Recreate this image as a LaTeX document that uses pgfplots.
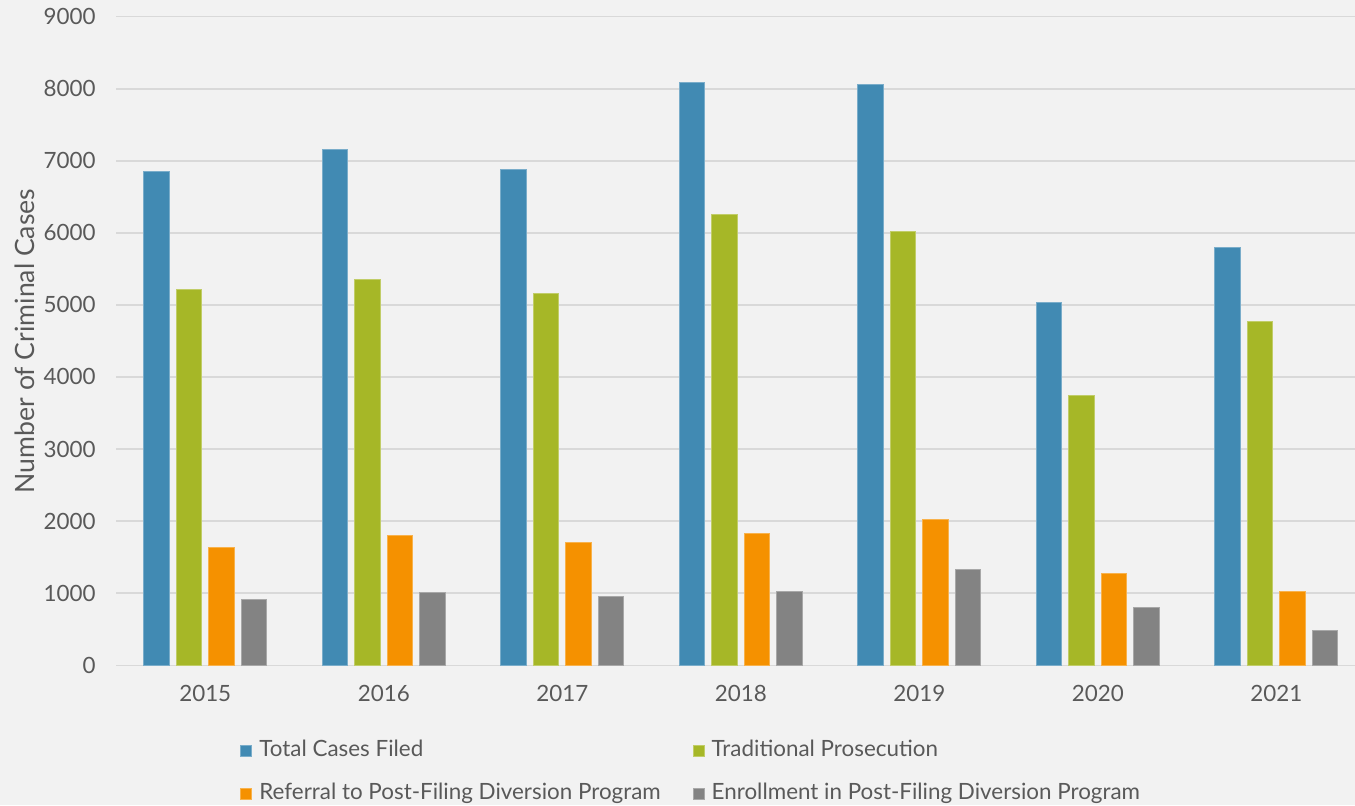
\documentclass[border=0pt]{standalone}
\usepackage{pgfplots}
\pgfplotsset{compat=1.18}
\usepackage{fontspec}
\setmainfont{Lato}

\definecolor{bg}{HTML}{F2F2F2}
\definecolor{gridc}{HTML}{D9D9D9}
\definecolor{txt}{HTML}{595959}
\definecolor{cTotal}{HTML}{418AB3}
\definecolor{cTrad}{HTML}{A6B727}
\definecolor{cRef}{HTML}{F59100}
\definecolor{cEnr}{HTML}{838383}

% Criminal cases per year (x = 0 ... 6 for 2015 ... 2021)
\pgfplotstableread{
x total trad referral enrol
0 6852 5208 1637 912
1 7157 5356 1795 1014
2 6884 5166 1707 949
3 8083 6254 1823 1019
4 8055 6023 2023 1330
5 5032 3750 1274 800
6 5801 4764 1028 484
}\casedata

\newcommand{\lblfont}{\fontsize{11.2}{13}\selectfont}

\begin{document}
\begin{tikzpicture}
\fill[bg] (0,0) rectangle (677.5pt,402.5pt);
\useasboundingbox (0,0) rectangle (677.5pt,402.5pt);
\begin{axis}[
  at={(58pt,69.85pt)}, anchor=south west,
  scale only axis, width=619.5pt, height=324.3pt,
  xmin=-0.5, xmax=6.441, ymin=0, ymax=9000,
  ybar=3.5pt, bar width=12.75pt,
  axis line style={draw=none},
  ytick={0,1000,...,9000},
  xtick={0,...,6}, xticklabels={2015,2016,2017,2018,2019,2020,2021},
  major tick length=0pt,
  ymajorgrids, grid style={draw=gridc, line width=0.75pt},
  tick label style={font=\lblfont, text=txt},
  /pgf/number format/assume math mode=true,
  scaled y ticks=false,
  yticklabel style={/pgf/number format/1000 sep={}, anchor=east, inner sep=0pt,
    xshift=-10pt, text height=7.9pt, text depth=0pt},
  xticklabel style={anchor=north, inner sep=0pt, yshift=-10pt, text height=8pt},
  ylabel={Number of Criminal Cases},
  ylabel style={font=\fontsize{13.3}{15}\selectfont, text=txt,
    at={(axis description cs:-0.0734,0.5)}, anchor=center},
  legend columns=2,
  legend cell align=left,
  legend image code/.code={\fill[#1] (0pt,-2.75pt) rectangle (5.5pt,2.75pt);},
  legend style={at={(axis description cs:0.1001,-0.1152)}, anchor=north west,
    draw=none, fill=none, font=\lblfont, text=txt, inner sep=0pt,
    nodes={inner sep=0pt, text height=8pt, text depth=2.5pt},
    row sep=11pt,
    /tikz/column 1/.style={column sep=3.5pt},
    /tikz/column 2/.style={column sep=16pt},
    /tikz/column 3/.style={column sep=3.5pt}},
  every axis plot/.append style={line width=0.5pt},
]
\addplot[fill=cTotal, draw=cTotal!70!white] table[x=x, y=total] {\casedata};
\addplot[fill=cTrad, draw=cTrad!70!white] table[x=x, y=trad] {\casedata};
\addplot[fill=cRef, draw=cRef!70!white] table[x=x, y=referral] {\casedata};
\addplot[fill=cEnr, draw=cEnr!70!white] table[x=x, y=enrol] {\casedata};
\legend{Total Cases Filed, Traditional Prosecution,
  Referral to Post-Filing Diversion Program, Enrollment in Post-Filing Diversion Program}
\end{axis}
\end{tikzpicture}
\end{document}
